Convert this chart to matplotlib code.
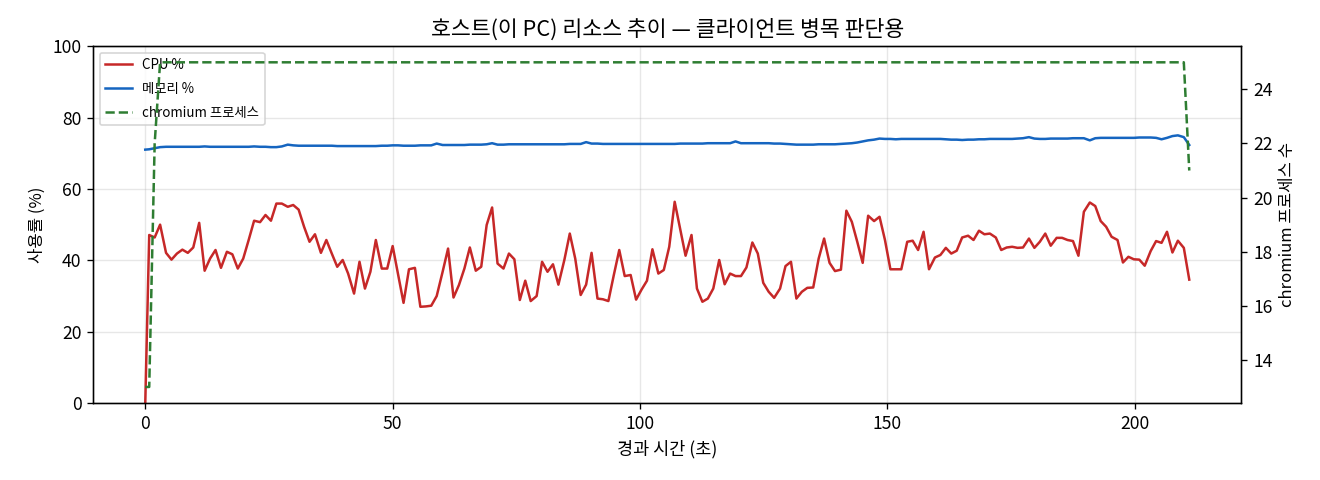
import matplotlib
matplotlib.use("Agg")
import matplotlib.pyplot as plt

plt.rcParams['font.family'] = ['Noto Sans CJK KR', 'DejaVu Sans']
plt.rcParams['axes.unicode_minus'] = False

# elapsed time (s)
elapsed = [0.0, 0.8, 1.9, 3.0, 4.2, 5.3, 6.4, 7.5, 8.6, 9.7,
           10.9, 12.0, 13.1, 14.2, 15.3, 16.5, 17.6, 18.7, 19.8, 20.9,
           22.0, 23.2, 24.3, 25.4, 26.5, 27.6, 28.8, 29.9, 31.0, 32.1,
           33.2, 34.3, 35.5, 36.6, 37.7, 38.8, 39.9, 41.0, 42.2, 43.3,
           44.4, 45.5, 46.6, 47.8, 48.9, 50.0, 51.1, 52.2, 53.3, 54.5,
           55.6, 56.7, 57.8, 58.9, 60.1, 61.2, 62.3, 63.4, 64.5, 65.6,
           66.8, 67.9, 69.0, 70.1, 71.2, 72.4, 73.5, 74.6, 75.7, 76.8,
           77.9, 79.1, 80.2, 81.3, 82.4, 83.5, 84.7, 85.8, 86.9, 88.0,
           89.1, 90.2, 91.4, 92.5, 93.6, 94.7, 95.8, 96.9, 98.1, 99.2,
           100.3, 101.4, 102.5, 103.7, 104.8, 105.9, 107.0, 108.1, 109.2, 110.4,
           111.5, 112.6, 113.7, 114.8, 116.0, 117.1, 118.2, 119.3, 120.4, 121.5,
           122.7, 123.8, 124.9, 126.0, 127.1, 128.3, 129.4, 130.5, 131.6, 132.7,
           133.8, 135.0, 136.1, 137.2, 138.3, 139.4, 140.6, 141.7, 142.8, 143.9,
           145.0, 146.1, 147.3, 148.4, 149.5, 150.6, 151.7, 152.8, 154.0, 155.1,
           156.2, 157.3, 158.4, 159.6, 160.7, 161.8, 162.9, 164.0, 165.1, 166.3,
           167.4, 168.5, 169.6, 170.7, 171.9, 173.0, 174.1, 175.2, 176.3, 177.4,
           178.6, 179.7, 180.8, 181.9, 183.0, 184.2, 185.3, 186.4, 187.5, 188.6,
           189.7, 190.9, 192.0, 193.1, 194.2, 195.3, 196.5, 197.6, 198.7, 199.8,
           200.9, 202.0, 203.2, 204.3, 205.4, 206.5, 207.6, 208.7, 209.9, 211.0]

cpu_pct = [0.0, 47.1, 46.4, 50.0, 42.1, 40.2, 41.9, 43.0, 42.1, 43.6,
           50.5, 37.1, 40.5, 42.9, 37.9, 42.4, 41.7, 37.7, 40.5, 45.7,
           51.1, 50.7, 52.7, 51.1, 55.9, 55.9, 55.0, 55.5, 54.2, 49.4,
           45.2, 47.3, 42.1, 45.7, 41.9, 38.2, 40.1, 36.3, 30.7, 39.6,
           32.1, 36.8, 45.7, 37.7, 37.7, 44.0, 36.0, 28.1, 37.5, 37.9,
           27.0, 27.1, 27.3, 30.0, 36.8, 43.3, 29.6, 33.1, 37.7, 43.6,
           37.1, 38.2, 49.9, 54.8, 39.1, 37.7, 41.9, 40.3, 28.9, 34.3,
           28.6, 30.0, 39.6, 36.8, 38.9, 33.2, 40.1, 47.5, 40.5, 30.3,
           33.2, 42.1, 29.3, 29.1, 28.6, 35.9, 42.9, 35.6, 35.9, 29.0,
           31.8, 34.3, 43.1, 36.3, 37.3, 43.8, 56.4, 48.9, 41.3, 47.1,
           32.1, 28.4, 29.3, 32.1, 40.1, 33.3, 36.3, 35.6, 35.6, 38.0,
           45.0, 41.9, 33.7, 31.2, 29.5, 32.1, 38.4, 39.6, 29.3, 31.2,
           32.3, 32.4, 40.5, 46.1, 39.3, 37.0, 37.4, 53.9, 50.8, 45.2,
           39.3, 52.5, 51.0, 52.2, 45.7, 37.5, 37.5, 37.5, 45.2, 45.5,
           42.9, 48.0, 37.5, 40.8, 41.5, 43.5, 41.9, 42.7, 46.4, 46.9,
           45.7, 48.3, 47.3, 47.5, 46.4, 42.9, 43.6, 43.8, 43.5, 43.6,
           46.1, 43.5, 45.2, 47.5, 44.1, 46.3, 46.3, 45.7, 45.4, 41.3,
           53.6, 56.2, 55.2, 51.0, 49.4, 46.6, 45.7, 39.4, 41.0, 40.3,
           40.2, 38.5, 42.6, 45.4, 44.9, 48.0, 42.2, 45.5, 43.5, 34.6]

mem_pct = [71.0, 71.1, 71.4, 71.7, 71.8, 71.8, 71.8, 71.8, 71.8, 71.8,
           71.8, 71.9, 71.8, 71.8, 71.8, 71.8, 71.8, 71.8, 71.8, 71.8,
           71.9, 71.8, 71.8, 71.7, 71.7, 71.9, 72.4, 72.2, 72.1, 72.1,
           72.1, 72.1, 72.1, 72.1, 72.1, 72.0, 72.0, 72.0, 72.0, 72.0,
           72.0, 72.0, 72.0, 72.1, 72.1, 72.2, 72.2, 72.1, 72.1, 72.1,
           72.2, 72.2, 72.2, 72.7, 72.3, 72.3, 72.3, 72.3, 72.3, 72.4,
           72.4, 72.4, 72.5, 72.8, 72.4, 72.4, 72.5, 72.5, 72.5, 72.5,
           72.5, 72.5, 72.5, 72.5, 72.5, 72.5, 72.5, 72.6, 72.6, 72.6,
           73.1, 72.7, 72.7, 72.6, 72.6, 72.6, 72.6, 72.6, 72.6, 72.6,
           72.6, 72.6, 72.6, 72.6, 72.6, 72.6, 72.6, 72.7, 72.7, 72.7,
           72.7, 72.7, 72.8, 72.8, 72.8, 72.8, 72.8, 73.3, 72.8, 72.8,
           72.8, 72.8, 72.8, 72.8, 72.7, 72.7, 72.6, 72.5, 72.4, 72.4,
           72.4, 72.4, 72.5, 72.5, 72.5, 72.5, 72.6, 72.7, 72.8, 73.0,
           73.3, 73.6, 73.8, 74.1, 74.0, 74.0, 73.9, 74.0, 74.0, 74.0,
           74.0, 74.0, 74.0, 74.0, 74.0, 73.9, 73.8, 73.8, 73.7, 73.8,
           73.8, 73.9, 73.9, 74.0, 74.0, 74.0, 74.0, 74.0, 74.1, 74.2,
           74.5, 74.1, 74.0, 74.0, 74.1, 74.1, 74.1, 74.1, 74.2, 74.2,
           74.2, 73.6, 74.2, 74.3, 74.3, 74.3, 74.3, 74.3, 74.3, 74.3,
           74.4, 74.4, 74.4, 74.3, 73.9, 74.3, 74.8, 75.0, 74.5, 72.3]

chromium_procs = [13, 13, 22] + [25] * 186 + [21]

title = "호스트(이 PC) 리소스 추이 — 클라이언트 병목 판단용"
xlabel = "경과 시간 (초)"
ylabel_left = "사용률 (%)"
ylabel_right = "chromium 프로세스 수"
label_cpu = "CPU %"
label_mem = "메모리 %"
label_proc = "chromium 프로세스"

fig, ax1 = plt.subplots(figsize=(11, 4), dpi=120)
fig.subplots_adjust(left=0.0705, right=0.9405, top=0.904, bottom=0.16)

l1, = ax1.plot(elapsed, cpu_pct, color="#c62828", lw=1.5, label=label_cpu)
l2, = ax1.plot(elapsed, mem_pct, color="#1565c0", lw=1.5, label=label_mem)
ax1.set_ylim(0, 100)
ax1.set_xlabel(xlabel, fontsize=10.5)
ax1.set_ylabel(ylabel_left, fontsize=10)
ax1.grid(True, alpha=0.3)
ax1.tick_params(labelsize=10.5)

ax2 = ax1.twinx()
l3, = ax2.plot(elapsed, chromium_procs, color="#2e7d32", lw=1.5, ls="--", label=label_proc)
ax2.set_ylabel(ylabel_right, fontsize=10)
ax2.tick_params(labelsize=10.5)

ax1.legend(handles=[l1, l2, l3], loc="upper left", fontsize=8, labelspacing=0.75)
ax1.set_title(title, fontsize=13)

fig.savefig("out.png", dpi=120)
